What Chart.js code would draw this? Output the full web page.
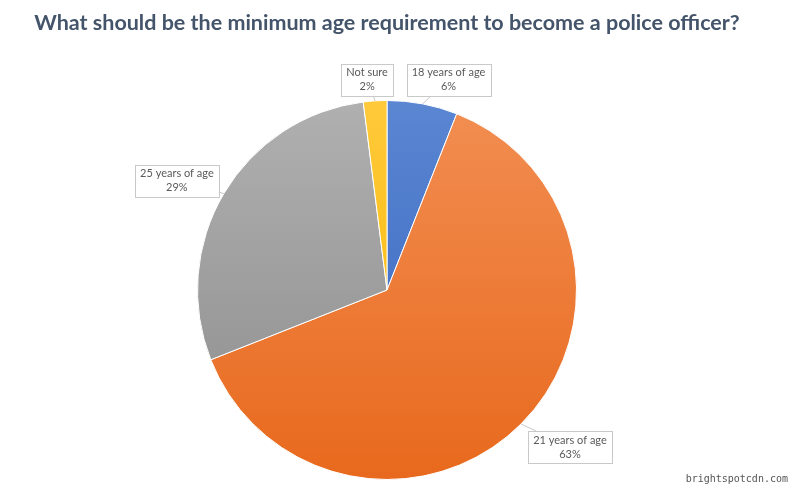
<!DOCTYPE html>
<html>
<head>
<meta charset="utf-8">
<script src="https://cdn.jsdelivr.net/npm/chart.js@4"></script>
<style>
  body { margin: 0; background: #fff; }
  #wrap { position: relative; width: 800px; height: 490px; }
  #mark { position: absolute; right: 12px; bottom: 6px; font: 10px "DejaVu Sans Mono", monospace; color: #555; }
</style>
</head>
<body>
<div id="wrap">
  <canvas id="chartAge" width="800" height="490"></canvas>
  <div id="mark">brightspotcdn.com</div>
</div>
<script>
var labels = ['18 years of age', '21 years of age', '25 years of age', 'Not sure'];
var values = [6, 63, 29, 2];
var pctLabels = ['6%', '63%', '29%', '2%'];

// gradient stops per slice (top, bottom)
var sliceColors = [
    ['#5a86d2', '#3564bd'],
    ['#f28e52', '#e8691d'],
    ['#b0b0b0', '#8c8c8c'],
    ['#ffc93a', '#f7b800']
];
// where each callout box sits, relative to the middle of its slice's rim
var calloutOffsets = [[26, -24], [49, 23], [-47, -13], [-8, -21]];

function sliceFill(context) {
    var chart = context.chart;
    var area = chart.chartArea;
    if (!area) return sliceColors[context.dataIndex][0];
    var g = chart.ctx.createLinearGradient(0, area.top, 0, area.bottom);
    g.addColorStop(0, sliceColors[context.dataIndex][0]);
    g.addColorStop(1, sliceColors[context.dataIndex][1]);
    return g;
}

var callouts = {
    id: 'callouts',
    afterDatasetsDraw: function(chart) {
        var ctx = chart.ctx;
        var arcs = chart.getDatasetMeta(0).data;
        ctx.save();
        ctx.font = '11px Lato';
        ctx.textAlign = 'center';
        ctx.textBaseline = 'middle';
        for (var i = 0; i < arcs.length; i++) {
            var a = arcs[i];
            var mid = (a.startAngle + a.endAngle) / 2;
            var ex = a.x + Math.cos(mid) * a.outerRadius;
            var ey = a.y + Math.sin(mid) * a.outerRadius;
            var cx = ex + calloutOffsets[i][0];
            var cy = ey + calloutOffsets[i][1];
            var w = Math.max(ctx.measureText(labels[i]).width, ctx.measureText(pctLabels[i]).width) + 10;
            var h = 32;

            // leader line
            ctx.strokeStyle = '#c8c8c8';
            ctx.lineWidth = 1;
            ctx.beginPath();
            ctx.moveTo(ex, ey);
            ctx.lineTo(cx, cy);
            ctx.stroke();

            ctx.fillStyle = '#fff';
            ctx.fillRect(cx - w / 2, cy - h / 2, w, h);
            ctx.strokeStyle = '#c9c9c9';
            ctx.strokeRect(Math.round(cx - w / 2) + 0.5, Math.round(cy - h / 2) + 0.5, Math.round(w), h);

            ctx.fillStyle = '#595959';
            ctx.fillText(labels[i], cx, cy - 7);
            ctx.fillText(pctLabels[i], cx, cy + 7);
        }
        ctx.restore();
    }
};

var ctx = document.getElementById('chartAge');
var chartAge = new Chart(ctx, {
    type: 'pie',
    data: {
        labels: labels,
        datasets: [{
            data: values,
            backgroundColor: sliceFill,
            borderColor: '#ffffff',
            borderWidth: 1
        }]
    },
    options: {
        responsive: false,
        animation: false,
        layout: {
            padding: { top: 0, bottom: 10, left: 0, right: 26 }
        },
        plugins: {
            legend: { display: false },
            tooltip: { enabled: false },
            title: {
                display: true,
                text: 'What should be the minimum age requirement to become a police officer?',
                color: '#44546A',
                font: { family: 'Lato', size: 21.5, weight: 'bold', lineHeight: 1.2 },
                padding: { top: 10, bottom: 64.2 }
            }
        }
    },
    plugins: [callouts]
});
</script>
</body>
</html>
